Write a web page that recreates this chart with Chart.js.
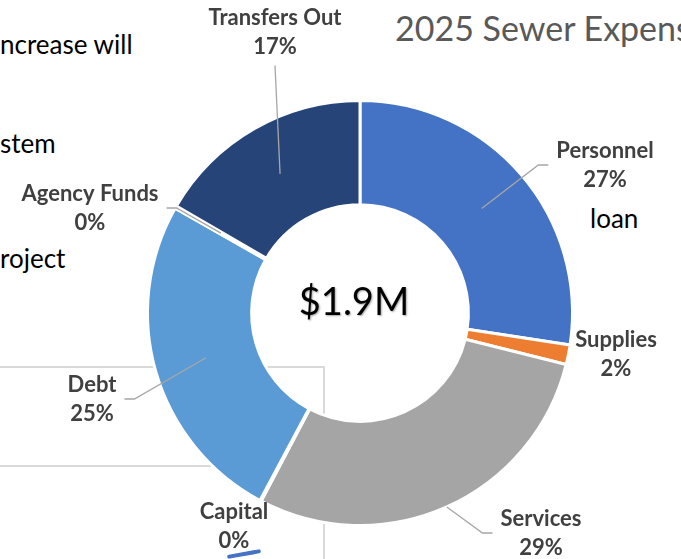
<!DOCTYPE html>
<html>
<head>
<meta charset="utf-8">
<title>2025 Sewer Expenses</title>
<script src="https://cdn.jsdelivr.net/npm/chart.js@4/dist/chart.umd.min.js"></script>
<style>
  html, body { margin: 0; padding: 0; width: 681px; height: 559px; overflow: hidden; background: #fff; }
  #stage { position: relative; width: 681px; height: 559px; font-family: Lato, "Open Sans", sans-serif; }
  .slide-text { position: absolute; color: #000; font-size: 26px; line-height: 1; white-space: nowrap; }
  .rule { position: absolute; background: #d9d9d9; }
  #title { position: absolute; left: 395px; top: 8px; font-size: 34px; font-weight: 400; color: #595959; white-space: nowrap; line-height: 1.2; }
  #blueMark { position: absolute; left: 227px; top: 552px; width: 34px; height: 4px; border-radius: 2px; background: #4472C4; transform: rotate(-10deg); }
  #expenseChart { position: absolute; left: 0; top: 0; }
</style>
</head>
<body>
<div id="stage">
  <div id="title">2025 Sewer Expenses</div>
  <div class="slide-text" style="left:0; top:31px;">ncrease will</div>
  <div class="slide-text" style="left:0; top:130px;">stem</div>
  <div class="slide-text" style="left:0; top:245px;">roject</div>
  <div class="slide-text" style="left:590px; top:205px;">loan</div>
  <div class="rule" style="left:0; top:366px; width:325px; height:2px;"></div>
  <div class="rule" style="left:0; top:465px; width:325px; height:2px;"></div>
  <div class="rule" style="left:323px; top:366px; width:2px; height:193px;"></div>
  <div id="blueMark"></div>
  <canvas id="expenseChart" width="681" height="559"></canvas>
</div>
<script>
const categories = ['Personnel', 'Supplies', 'Services', 'Capital', 'Debt', 'Agency Funds', 'Transfers Out'];
const values = [27.4, 1.5, 28.8, 0.1, 25.4, 0.2, 16.6];
const sliceColors = ['#4472C4', '#ED7D31', '#A5A5A5', '#FFC000', '#5B9BD5', '#70AD47', '#264478'];
const centerLabel = '$1.9M';

// label placement, offset of label centre from the donut centre
const labelPos = [[245, -148], [256, 41], [181, 220], [-126, 213], [-268, 86], [-270, -105], [-85, -281]];
// leader style per label: 'side' = hook from label side, 'below' = straight from under label
const leaderType = ['side', null, 'side', null, 'side', 'side', 'below'];
const leaderReach = ['mid', null, 'outer', null, 'mid', 'mid', 'mid'];

const total = values.reduce((s, v) => s + v, 0);
const lineGap = 29;

const sliceLabels = {
    id: 'sliceLabels',
    afterDatasetsDraw(chart) {
        const ctx = chart.ctx;
        const arcs = chart.getDatasetMeta(0).data;
        const cx = arcs[0].x;
        const cy = arcs[0].y;

        ctx.save();
        ctx.font = 'bold 22px Lato';
        ctx.textAlign = 'center';
        ctx.textBaseline = 'middle';

        arcs.forEach((arc, i) => {
            const pct = Math.round(values[i] / total * 100);
            const lines = [categories[i], pct + '%'];
            const lx = cx + labelPos[i][0];
            const ly = cy + labelPos[i][1];

            if (leaderType[i]) {
                const mid = (arc.startAngle + arc.endAngle) / 2;
                const r = leaderReach[i] === 'outer' ? arc.outerRadius : (arc.innerRadius + arc.outerRadius) / 2;
                const ax = cx + r * Math.cos(mid);
                const ay = cy + r * Math.sin(mid);

                ctx.strokeStyle = '#A6A6A6';
                ctx.lineWidth = 1.3;
                ctx.beginPath();
                if (leaderType[i] === 'below') {
                    ctx.moveTo(lx, ly + lineGap / 2 + 19);
                } else {
                    const w = Math.max(...lines.map(t => ctx.measureText(t).width));
                    const dir = ax > lx ? 1 : -1;
                    const sx = lx + dir * (w / 2 + 8);
                    ctx.moveTo(sx, ly);
                    ctx.lineTo(sx + dir * 10, ly);
                }
                ctx.lineTo(ax, ay);
                ctx.stroke();
            }

            ctx.fillStyle = '#404040';
            lines.forEach((t, k) => ctx.fillText(t, lx, ly + (k - 0.5) * lineGap));
        });

        // total in the hole
        ctx.font = '38px Lato';
        ctx.textBaseline = 'alphabetic';
        ctx.fillStyle = '#000';
        ctx.shadowColor = 'rgba(0,0,0,0.35)';
        ctx.shadowBlur = 2;
        ctx.shadowOffsetX = 1;
        ctx.shadowOffsetY = 1;
        ctx.fillText(centerLabel, cx - 6, cy + 2);
        ctx.restore();
    }
};

new Chart(document.getElementById('expenseChart'), {
    type: 'doughnut',
    data: {
        labels: categories,
        datasets: [{
            data: values,
            backgroundColor: sliceColors,
            borderColor: '#ffffff',
            borderWidth: 3,
            hoverOffset: 0
        }]
    },
    options: {
        responsive: false,
        animation: false,
        cutout: '51%',
        layout: {
            padding: { left: 146, right: 107, top: 99, bottom: 32 }
        },
        plugins: {
            legend: { display: false },
            tooltip: { enabled: false },
            title: { display: false }
        }
    },
    plugins: [sliceLabels]
});
</script>
</body>
</html>
